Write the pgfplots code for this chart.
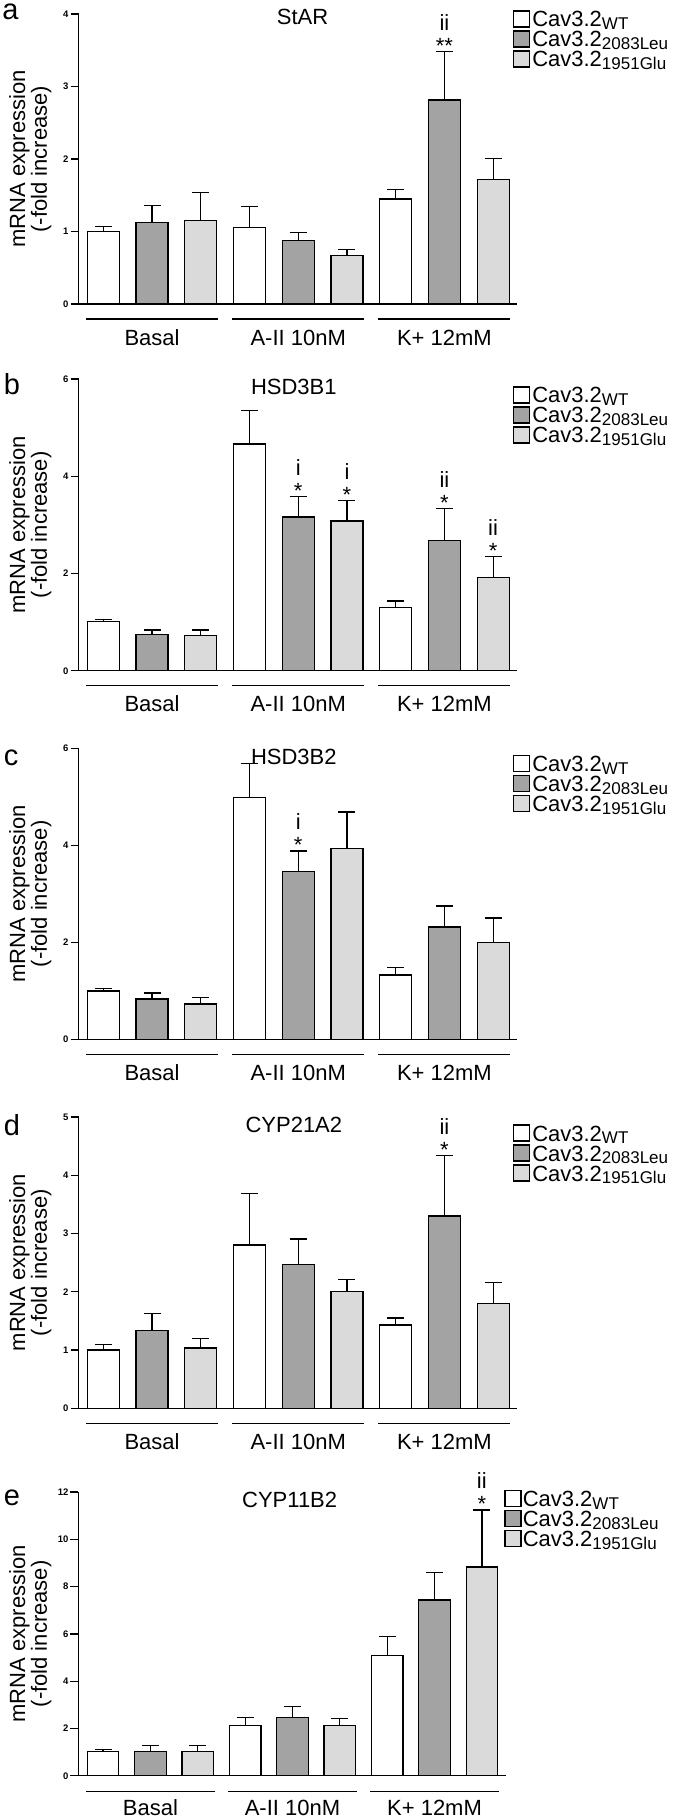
\documentclass[border=0pt]{standalone}
\usepackage{fontspec}
\setmainfont{Liberation Sans}
\usepackage{pgfplots}
\pgfplotsset{compat=1.18}

\definecolor{barD}{RGB}{163,163,163}
\definecolor{barL}{RGB}{218,218,218}

\newcommand\mainfont{\fontsize{8.8pt}{8.7pt}\selectfont}
\newcommand\sub[1]{\raisebox{-1pt}{\fontsize{6.8pt}{7pt}\selectfont #1}}

\pgfplotsset{
  panel/.style={
    scale only axis, anchor=south west,
    width=175.2pt,
    xmin=0.49, xmax=9.48, ymin=0,
    axis x line*=bottom, axis y line*=left,
    axis line style={line width=0.55pt},
    xtick=\empty,
    tick align=outside, major tick length=3.2pt,
    every tick/.style={black, line width=0.5pt},
    yticklabel style={font=\bfseries\fontsize{3.8pt}{4pt}\selectfont, inner sep=0.6pt},
    /pgf/number format/assume math mode=true,
    ylabel={mRNA expression\\(-fold increase)},
    ylabel style={at={(axis description cs:-0.1103,0.5)}, anchor=center,
      align=center, font=\mainfont, inner sep=0pt},
    clip=false,
  },
  bars/.style={ybar, bar width=12.8pt, bar shift=0pt, draw=black, line width=0.5pt,
    error bars/y dir=plus, error bars/y explicit,
    error bars/error mark=|,
    error bars/error bar style={line width=0.5pt, black},
    error bars/error mark options={mark size=3.4pt, line width=0.5pt, black}},
}

% group underlines and names below the x axis
\newcommand\groups[2]{%
  \draw[line width=0.5pt] ([yshift=-#1]axis cs:0.645,0) -- ([yshift=-#1]axis cs:3.355,0);
  \draw[line width=0.5pt] ([yshift=-#1]axis cs:3.645,0) -- ([yshift=-#1]axis cs:6.355,0);
  \draw[line width=0.5pt] ([yshift=-#1]axis cs:6.645,0) -- ([yshift=-#1]axis cs:9.355,0);
  \node[anchor=base, font=\mainfont, inner sep=0pt, yshift=-#2] at (axis cs:2,0) {Basal};
  \node[anchor=base, font=\mainfont, inner sep=0pt, yshift=-#2] at (axis cs:5,0) {A-II 10nM};
  \node[anchor=base, font=\mainfont, inner sep=0pt, yshift=-#2] at (axis cs:8,0) {K+ 12mM};
}
% significance marks above an error bar
\newcommand\annot[4]{%
  \node[anchor=base, font=\mainfont, inner sep=0pt, yshift=-0.8pt] at (axis cs:#1,#2) {#3};
  \node[anchor=base, font=\mainfont, inner sep=0pt, yshift=8.4pt] at (axis cs:#1,#2) {#4};
}
% legend block: box left x, first baseline y, text offset
\newcommand\legendblock[3]{%
  \begin{scope}[shift={(#1,#2)}]
    \draw[line width=0.45pt, fill=white] (0,0) rectangle (6.4pt,6.4pt);
    \node[anchor=base west, inner sep=0pt, font=\mainfont] at (#3,0) {Cav3.2\sub{WT}};
    \draw[line width=0.45pt, fill=barD] (0,-8pt) rectangle (6.4pt,-1.6pt);
    \node[anchor=base west, inner sep=0pt, font=\mainfont] at (#3,-8pt) {Cav3.2\sub{2083Leu}};
    \draw[line width=0.45pt, fill=barL] (0,-16pt) rectangle (6.4pt,-9.6pt);
    \node[anchor=base west, inner sep=0pt, font=\mainfont] at (#3,-16pt) {Cav3.2\sub{1951Glu}};
  \end{scope}
}

\begin{document}
\begin{tikzpicture}
\path[use as bounding box] (0,0) rectangle (268.8pt,-727.2pt);

% ---------- a: StAR ----------
\begin{axis}[panel, at={(31.4pt,-121.6pt)}, height=116pt, ymax=4, ytick={0,1,2,3,4}]
\addplot[fill=white, bars] coordinates {(1,1.00) +- (0,0.07) (4,1.056) +- (0,0.284) (7,1.45) +- (0,0.134)};
\addplot[fill=barD, bars] coordinates {(2,1.125) +- (0,0.23) (5,0.873) +- (0,0.114) (8,2.815) +- (0,0.671)};
\addplot[fill=barL, bars] coordinates {(3,1.15) +- (0,0.39) (6,0.67) +- (0,0.08) (9,1.718) +- (0,0.289)};
\groups{6pt}{16.4pt}
\annot{8}{3.486}{**}{ii}
\node[anchor=north, font=\mainfont, inner sep=0pt, yshift=2.3pt] at (axis cs:5.09,4) {StAR};
\end{axis}

% ---------- b: HSD3B1 ----------
\begin{axis}[panel, at={(31.4pt,-268.3pt)}, height=116.7pt, ymax=6, ytick={0,2,4,6}]
\addplot[fill=white, bars] coordinates {(1,1.008) +- (0,0.048) (4,4.663) +- (0,0.697) (7,1.296) +- (0,0.137)};
\addplot[fill=barD, bars] coordinates {(2,0.74) +- (0,0.097) (5,3.161) +- (0,0.425) (8,2.681) +- (0,0.659)};
\addplot[fill=barL, bars] coordinates {(3,0.72) +- (0,0.117) (6,3.079) +- (0,0.425) (9,1.913) +- (0,0.432)};
\groups{6pt}{16.4pt}
\annot{5}{3.586}{*}{i}
\annot{6}{3.504}{*}{i}
\annot{8}{3.34}{*}{ii}
\annot{9}{2.345}{*}{ii}
\node[anchor=north, font=\mainfont, inner sep=0pt] at (axis cs:4.91,6) {HSD3B1};
\end{axis}

% ---------- c: HSD3B2 ----------
\begin{axis}[panel, at={(31.4pt,-415.7pt)}, height=116.4pt, ymax=6, ytick={0,2,4,6}]
\addplot[fill=white, bars] coordinates {(1,0.997) +- (0,0.048) (4,4.99) +- (0,0.694) (7,1.326) +- (0,0.159)};
\addplot[fill=barD, bars] coordinates {(2,0.832) +- (0,0.123) (5,3.464) +- (0,0.419) (8,2.316) +- (0,0.433)};
\addplot[fill=barL, bars] coordinates {(3,0.729) +- (0,0.13) (6,3.931) +- (0,0.756) (9,2.0) +- (0,0.502)};
\groups{6pt}{16.4pt}
\annot{5}{3.883}{*}{i}
\node[anchor=north, font=\mainfont, inner sep=0pt] at (axis cs:4.91,6) {HSD3B2};
\end{axis}

% ---------- d: CYP21A2 ----------
\begin{axis}[panel, at={(31.4pt,-563.3pt)}, height=116.5pt, ymax=5, ytick={0,1,2,3,4,5}]
\addplot[fill=white, bars] coordinates {(1,1.0) +- (0,0.093) (4,2.803) +- (0,0.881) (7,1.43) +- (0,0.12)};
\addplot[fill=barD, bars] coordinates {(2,1.333) +- (0,0.292) (5,2.466) +- (0,0.44) (8,3.30) +- (0,1.042)};
\addplot[fill=barL, bars] coordinates {(3,1.035) +- (0,0.165) (6,2.002) +- (0,0.212) (9,1.796) +- (0,0.366)};
\groups{6pt}{16.4pt}
\annot{8}{4.342}{*}{ii}
\node[anchor=north, font=\mainfont, inner sep=0pt] at (axis cs:4.91,5) {CYP21A2};
\end{axis}

% ---------- e: CYP11B2 ----------
\begin{axis}[panel, at={(31.4pt,-710.3pt)}, width=171.2pt, height=113.5pt,
  xmin=0.48, xmax=9.52, ymax=12, ytick={0,2,4,6,8,10,12},
  ylabel style={at={(axis description cs:-0.1128,0.5)}}]
\addplot[fill=white, bars, bar width=12.6pt] coordinates {(1,1.015) +- (0,0.085) (4,2.13) +- (0,0.35) (7,5.09) +- (0,0.80)};
\addplot[fill=barD, bars, bar width=12.6pt] coordinates {(2,1.04) +- (0,0.23) (5,2.48) +- (0,0.44) (8,7.43) +- (0,1.17)};
\addplot[fill=barL, bars, bar width=12.6pt] coordinates {(3,1.04) +- (0,0.23) (6,2.13) +- (0,0.28) (9,8.83) +- (0,2.41)};
\groups{6.4pt}{15.9pt}
\annot{9}{11.24}{*}{ii}
\node[anchor=north, font=\mainfont, inner sep=0pt] at (axis cs:4.94,12) {CYP11B2};
\end{axis}

% panel letters
\node[anchor=base west, inner sep=0pt, font=\fontsize{11.6pt}{12pt}\selectfont] at (0.8pt,-8pt) {a};
\node[anchor=base west, inner sep=0pt, font=\fontsize{11.6pt}{12pt}\selectfont] at (1.4pt,-158pt) {b};
\node[anchor=base west, inner sep=0pt, font=\fontsize{11.6pt}{12pt}\selectfont] at (1.4pt,-306pt) {c};
\node[anchor=base west, inner sep=0pt, font=\fontsize{11.6pt}{12pt}\selectfont] at (1.4pt,-454pt) {d};
\node[anchor=base west, inner sep=0pt, font=\fontsize{11.6pt}{12pt}\selectfont] at (1.4pt,-602pt) {e};

% legends
\legendblock{205.3pt}{-10.8pt}{7.4pt}
\legendblock{205.3pt}{-161.2pt}{7.4pt}
\legendblock{205.3pt}{-308.7pt}{7.4pt}
\legendblock{205.3pt}{-456.4pt}{7.4pt}
\legendblock{202pt}{-602.7pt}{6.9pt}
\end{tikzpicture}
\end{document}
